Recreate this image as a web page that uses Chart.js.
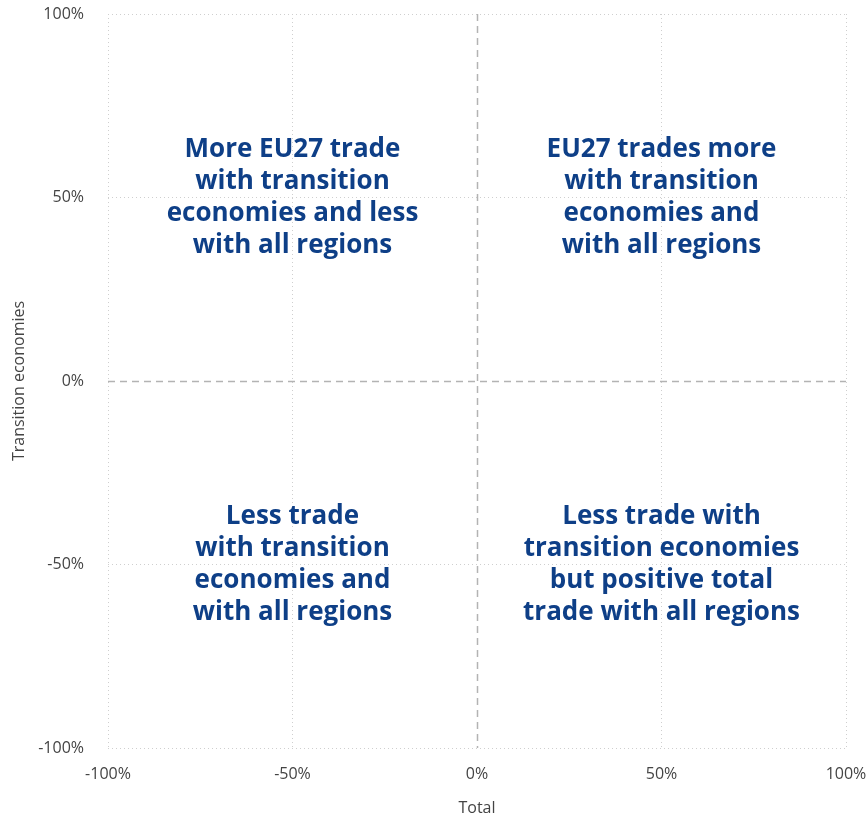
<!DOCTYPE html>
<html>
<head>
<meta charset="utf-8">
<script src="https://cdn.jsdelivr.net/npm/chart.js@4"></script>
<style>
  html, body { margin: 0; padding: 0; background: #ffffff; }
  #wrap { width: 867px; height: 818px; }
</style>
</head>
<body>
<div id="wrap"><canvas id="c" width="867" height="818"></canvas></div>
<script>
// Quadrant label anchors (value coordinates) and texts
const labelX = [-50, 50, -50, 50];
const labelY = [50, 50, -50, -50];
const labelLines = [
  ["More EU27 trade", "with transition", "economies and less", "with all regions"],
  ["EU27 trades more", "with transition", "economies and", "with all regions"],
  ["Less trade", "with transition", "economies and", "with all regions"],
  ["Less trade with", "transition economies", "but positive total", "trade with all regions"]
];
const tickValues = [-100, -50, 0, 50, 100];
const xTitle = "Total";
const yTitle = "Transition economies";

const FONT = "'Open Sans', 'Noto Sans', sans-serif";

const quadrantText = {
  id: 'quadrantText',
  afterDatasetsDraw(chart) {
    const ctx = chart.ctx;
    const xs = chart.scales.x, ys = chart.scales.y;
    const area = chart.chartArea;
    // zero lines (dashed)
    ctx.save();
    ctx.strokeStyle = '#b3b3b3';
    ctx.lineWidth = 1.5;
    ctx.setLineDash([7, 5]);
    const x0 = Math.round(xs.getPixelForValue(0)) + 0.5;
    const y0 = Math.round(ys.getPixelForValue(0)) + 0.5;
    ctx.beginPath(); ctx.moveTo(x0, area.top); ctx.lineTo(x0, area.bottom); ctx.stroke();
    ctx.beginPath(); ctx.moveTo(area.left, y0); ctx.lineTo(area.right, y0); ctx.stroke();
    ctx.restore();

    ctx.save();
    ctx.fillStyle = '#0e3f87';
    ctx.font = "bold 26px " + FONT;
    ctx.textAlign = 'center';
    ctx.textBaseline = 'middle';
    const lh = 32;
    chart.data.datasets[0].data.forEach((p, i) => {
      const px = xs.getPixelForValue(p.x);
      const py = ys.getPixelForValue(p.y);
      const lines = labelLines[i];
      const start = py - (lines.length - 1) * lh / 2;
      lines.forEach((t, j) => ctx.fillText(t, px, start + j * lh));
    });
    ctx.restore();
  }
};

const gridColor = (c) => (c.tick && c.tick.value === 0) ? 'rgba(0,0,0,0)' : '#cfcfcf';

new Chart(document.getElementById('c'), {
  type: 'scatter',
  data: {
    datasets: [{
      data: labelX.map((x, i) => ({ x: x, y: labelY[i] })),
      pointRadius: 0,
      pointHoverRadius: 0
    }]
  },
  options: {
    responsive: false,
    animation: false,
    events: [],
    layout: { padding: { top: 14, right: 21, bottom: 0, left: 4 } },
    plugins: { legend: { display: false }, tooltip: { enabled: false } },
    scales: {
      x: {
        min: -100, max: 100,
        afterBuildTicks: (s) => { s.ticks = tickValues.map(v => ({ value: v })); },
        afterFit: (s) => { s.height = 70; s.paddingLeft = 0; s.paddingRight = 0; },
        ticks: {
          callback: v => v + '%',
          color: '#444444',
          font: { family: FONT, size: 16 },
          padding: 17,
          maxRotation: 0
        },
        grid: { color: gridColor, lineWidth: 1, drawTicks: false },
        border: { display: false, dash: [1, 3] },
        title: { display: true, text: xTitle, color: '#444444', font: { family: FONT, size: 16 }, padding: { top: 0, bottom: 0 } }
      },
      y: {
        min: -100, max: 100,
        afterBuildTicks: (s) => { s.ticks = tickValues.map(v => ({ value: v })); },
        afterFit: (s) => { s.width = 104; s.paddingTop = 0; s.paddingBottom = 0; },
        ticks: {
          callback: v => v + '%',
          color: '#444444',
          font: { family: FONT, size: 16 },
          padding: 24
        },
        grid: { color: gridColor, lineWidth: 1, drawTicks: false },
        border: { display: false, dash: [1, 3] },
        title: { display: true, text: yTitle, color: '#444444', font: { family: FONT, size: 16 }, padding: { top: 6, bottom: 0 } }
      }
    }
  },
  plugins: [quadrantText]
});
</script>
</body>
</html>
